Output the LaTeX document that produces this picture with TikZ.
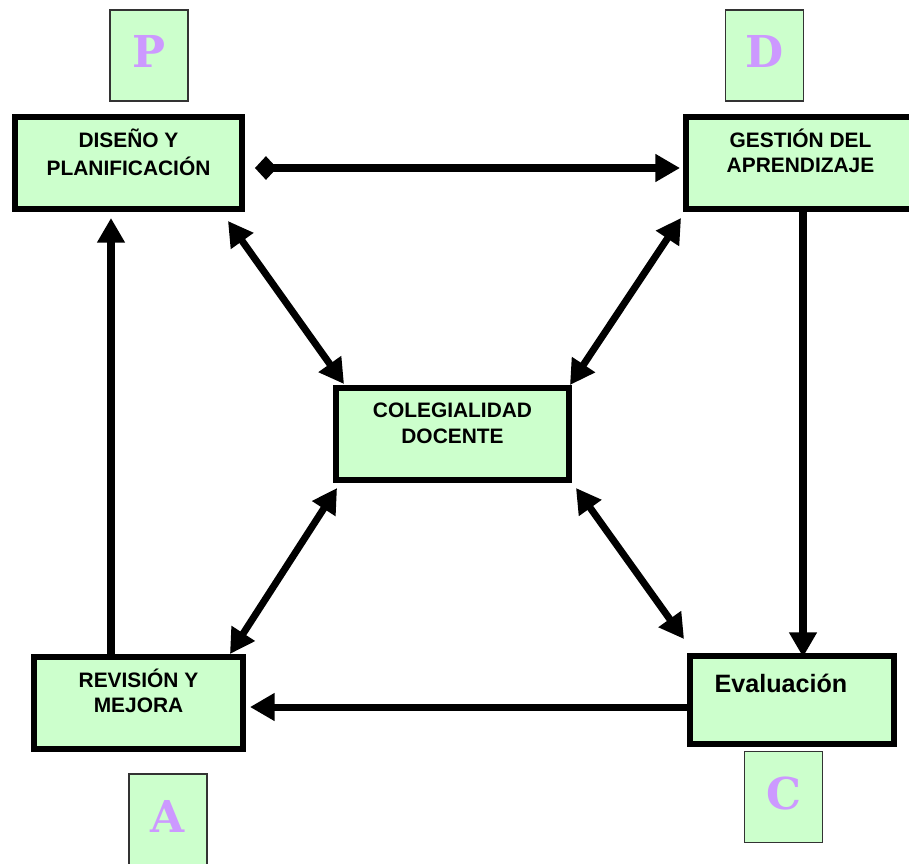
\documentclass[tikz,border=0pt]{standalone}
\usepackage{fontspec}
\setmainfont{Liberation Sans}
\newfontfamily\letrafont{DejaVu Serif}
\usetikzlibrary{arrows.meta, positioning, calc}
\definecolor{VerdeCaja}{RGB}{204, 255, 204}
\definecolor{LilaLetra}{RGB}{204, 153, 255}
\newcommand{\cajatexto}[4]{\parbox[c][#2][t]{#1}{\centering\vspace*{#3}\strut #4}}
\begin{document}
\begin{tikzpicture}[
    x=0.02cm, y=-0.02cm,
    etapa/.style={draw, line width=3.4pt, fill=VerdeCaja, inner sep=0pt, font=\bfseries\fontsize{11.9}{14.3}\selectfont},
    letra/.style={draw=black!80, line width=1pt, fill=VerdeCaja, inner sep=0pt, minimum width=1.56cm, minimum height=1.82cm, text=LilaLetra, font=\letrafont\bfseries\fontsize{25}{25}\selectfont},
    flecha/.style={line width=4pt, -{Triangle[length=14pt, width=15pt]}},
    doble/.style={line width=4pt, {Triangle[length=14pt, width=15pt]}-{Triangle[length=14pt, width=15pt]}},
    rombo/.style={line width=4pt, {Diamond[length=12.5pt, width=13.5pt]}-{Triangle[length=14pt, width=15pt]}}
]
\useasboundingbox (0,0) rectangle (909,863);
\clip (0,0) rectangle (909,863);
\node[etapa] (dis) at (128.5,163) {\cajatexto{4.54cm}{1.84cm}{7pt}{DISEÑO Y\\PLANIFICACIÓN}};
\node[etapa] (ges) at (800.5,163) {\cajatexto{4.58cm}{1.84cm}{7pt}{GESTIÓN DEL\\APRENDIZAJE}};
\node[etapa] (col) at (452.5,434) {\cajatexto{4.66cm}{1.84cm}{7pt}{COLEGIALIDAD\\DOCENTE}};
\node[etapa] (rev) at (138.5,703) {\cajatexto{4.18cm}{1.84cm}{7pt}{REVISIÓN Y\\MEJORA}};
\node[etapa, font=\bfseries\fontsize{14.3}{17.2}\selectfont] (eva) at (792,700) {\cajatexto{4.08cm}{1.76cm}{9pt}{Evaluación\hspace*{0.44cm}}};
\node[letra] (p) at (149,55.5) {\raisebox{4.5pt}{P}};
\node[letra] (d) at (764.5,55.5) {\raisebox{4.5pt}{D}};
\node[letra] (a) at (168,819.5) {\raisebox{3.5pt}{A}};
\node[letra] (c) at (783.5,797) {\raisebox{4pt}{C}};
\draw[rombo] ($(dis.east)+(10,5)$) -- ($(ges.west)+(-3,5)$);
\draw[flecha] ($(rev.north)+(-27.5,0)$) -- ($(dis.south -| rev.north)+(-27.5,6)$);
\draw[flecha] ($(ges.south)+(2.5,0)$) -- ($(eva.north -| ges.south)+(2.5,4)$);
\draw[flecha] ($(eva.west)+(0,7)$) -- ($(rev.east |- eva.west)+(4,7)$);
\draw[doble] ($(dis.south east)+(-17,9)$) -- ($(col.north west)+(11,-1)$);
\draw[doble] ($(ges.south west)+(-2,6)$) -- ($(col.north east)+(-2,0)$);
\draw[doble] ($(col.south west)+(4,5)$) -- ($(rev.north east)+(-16,0)$);
\draw[doble] ($(col.south east)+(4,5)$) -- ($(eva.north west)+(-3,-14)$);
\end{tikzpicture}
\end{document}
